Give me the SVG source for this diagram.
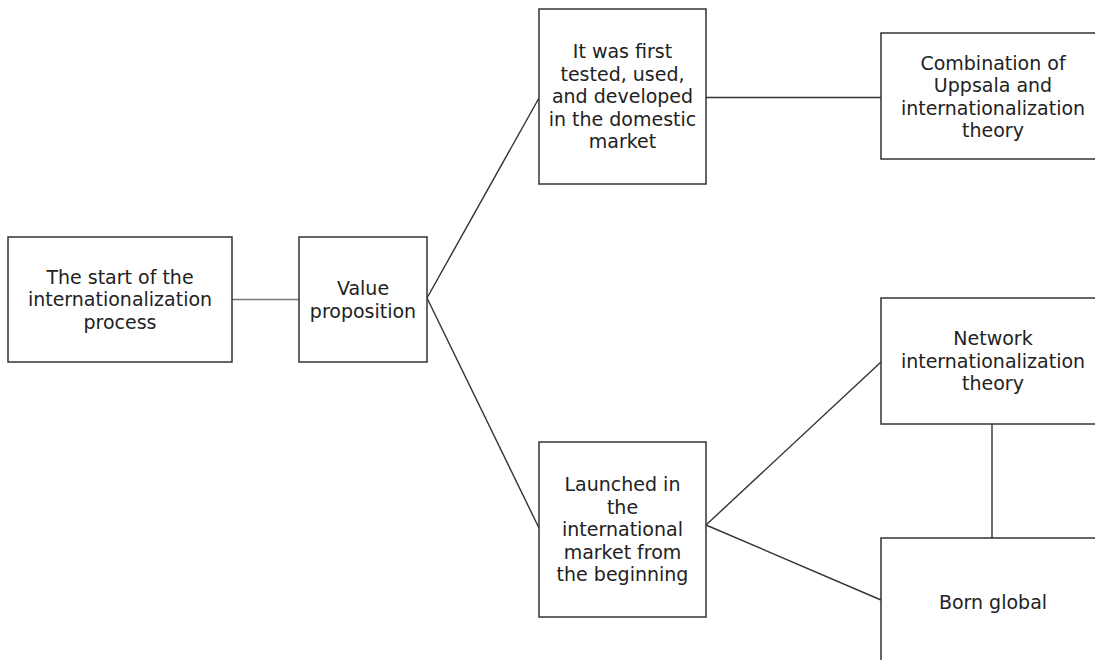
<svg xmlns="http://www.w3.org/2000/svg" width="1095" height="660" viewBox="0 0 1095 660">
<style>
.box{fill:#fff;stroke:#333;stroke-width:1.5}
.t{font-family:"DejaVu Sans",Verdana,sans-serif;font-size:19px;fill:#222;text-anchor:middle}
.c{stroke:#333;stroke-width:1.4;fill:none}
</style>
<rect width="1095" height="660" fill="#fff"/>
<g id="connectors">
<line class="c" x1="232" y1="299.5" x2="299" y2="299.5" style="stroke:#777"/>
<line class="c" x1="427" y1="298" x2="539" y2="98"/>
<line class="c" x1="427" y1="298" x2="539" y2="528"/>
<line class="c" x1="706" y1="97.5" x2="881" y2="97.5"/>
<line class="c" x1="706" y1="525" x2="881" y2="362"/>
<line class="c" x1="706" y1="525" x2="881" y2="600"/>
<line class="c" x1="992" y1="424" x2="992" y2="538"/>
</g>
<g id="n1"><rect class="box" x="8" y="237" width="224" height="125"/>
<text class="t" x="120" y="283.8">The start of the</text>
<text class="t" x="120" y="306.3">internationalization</text>
<text class="t" x="120" y="328.8">process</text></g>
<g id="n2"><rect class="box" x="299" y="237" width="128" height="125"/>
<text class="t" x="363" y="295">Value</text>
<text class="t" x="363" y="317.5">proposition</text></g>
<g id="n3"><rect class="box" x="539" y="9" width="167" height="175"/>
<text class="t" x="622.5" y="58.3">It was first</text>
<text class="t" x="622.5" y="80.8">tested, used,</text>
<text class="t" x="622.5" y="103.3">and developed</text>
<text class="t" x="622.5" y="125.8">in the domestic</text>
<text class="t" x="622.5" y="148.3">market</text></g>
<g id="n4"><rect class="box" x="881" y="33" width="224" height="126"/>
<text class="t" x="993" y="69.5">Combination of</text>
<text class="t" x="993" y="92">Uppsala and</text>
<text class="t" x="993" y="114.5">internationalization</text>
<text class="t" x="993" y="137">theory</text></g>
<g id="n5"><rect class="box" x="539" y="442" width="167" height="175"/>
<text class="t" x="622.5" y="491.3">Launched in</text>
<text class="t" x="622.5" y="513.8">the</text>
<text class="t" x="622.5" y="536.3">international</text>
<text class="t" x="622.5" y="558.8">market from</text>
<text class="t" x="622.5" y="581.3">the beginning</text></g>
<g id="n6"><rect class="box" x="881" y="298" width="224" height="126"/>
<text class="t" x="993" y="345.3">Network</text>
<text class="t" x="993" y="367.8">internationalization</text>
<text class="t" x="993" y="390.3">theory</text></g>
<g id="n7"><rect class="box" x="881" y="538" width="224" height="130"/>
<text class="t" x="993" y="608.8">Born global</text></g>
</svg>
